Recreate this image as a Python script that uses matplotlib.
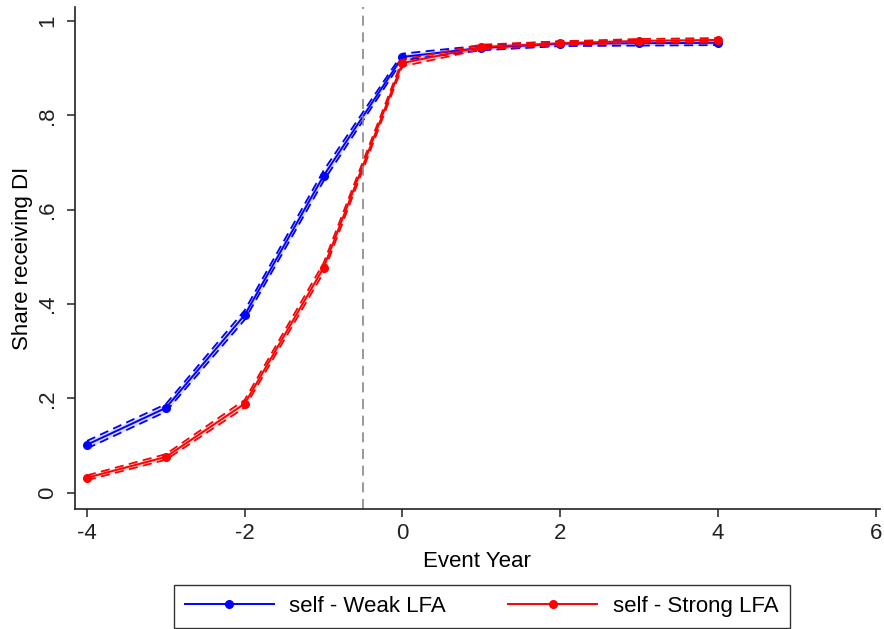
import matplotlib
matplotlib.use("Agg")
import matplotlib.pyplot as plt
import numpy as np

plt.rcParams['font.family'] = ['Liberation Sans', 'DejaVu Sans']

event_year = [-4, -3, -2, -1, 0, 1, 2, 3, 4]

weak_share = [0.102, 0.180, 0.377, 0.672, 0.924, 0.943, 0.952, 0.953, 0.954]
weak_lo    = [0.094, 0.172, 0.367, 0.661, 0.917, 0.938, 0.947, 0.948, 0.949]
weak_hi    = [0.110, 0.188, 0.387, 0.683, 0.931, 0.948, 0.957, 0.958, 0.959]

strong_share = [0.032, 0.076, 0.189, 0.477, 0.911, 0.945, 0.953, 0.958, 0.960]
strong_lo    = [0.027, 0.070, 0.181, 0.467, 0.904, 0.940, 0.949, 0.954, 0.956]
strong_hi    = [0.037, 0.082, 0.197, 0.487, 0.918, 0.950, 0.957, 0.962, 0.964]

x_ticks = [-4, -2, 0, 2, 4, 6]
y_ticks = [0, 0.2, 0.4, 0.6, 0.8, 1.0]
y_tick_labels = ["0", ".2", ".4", ".6", ".8", "1"]

FS = 16

fig = plt.figure(figsize=(8.84, 6.29), dpi=100)
ax = fig.add_axes([0.085, 0.191, 0.91, 0.798])

series = [
    (weak_share, weak_lo, weak_hi, "#0000ff", "self - Weak LFA"),
    (strong_share, strong_lo, strong_hi, "#ff0000", "self - Strong LFA"),
]
handles = []
for y, lo, hi, col, lab in series:
    ax.fill_between(event_year, lo, hi, color=col, alpha=0.15, lw=0)
    ax.plot(event_year, lo, color=col, lw=1.3, ls=(0, (5, 3)))
    ax.plot(event_year, hi, color=col, lw=1.3, ls=(0, (5, 3)))
    h, = ax.plot(event_year, y, color=col, lw=1.4, marker='o', ms=5.5,
                 mec=col, mfc=col, label=lab)
    handles.append(h)

ax.axvline(-0.5, color="#888888", lw=1.2, ls=(0, (6, 4)))

ax.set_xlim(-4.15, 6.05)
ax.set_ylim(-0.034, 1.03)
ax.set_xticks(x_ticks)
ax.set_xticklabels([str(t) for t in x_ticks])
ax.set_yticks(y_ticks)
ax.set_yticklabels(y_tick_labels, rotation=90, va='center')

for s in ['top', 'right']:
    ax.spines[s].set_visible(False)
for s in ['left', 'bottom']:
    ax.spines[s].set_linewidth(1.2)
    ax.spines[s].set_color('#222222')
ax.tick_params(axis='both', direction='out', length=6, width=1.1,
               labelsize=FS, colors='#222222')
ax.tick_params(axis='y', pad=6)
ax.tick_params(axis='x', pad=4)

ax.set_xlabel("Event Year", fontsize=FS, labelpad=5)
ax.set_ylabel("Share receiving DI", fontsize=FS, labelpad=3)

leg = fig.legend(handles=handles, loc='lower center', bbox_to_anchor=(0.545, 0.002),
                 ncol=2, fontsize=FS, frameon=True, fancybox=False,
                 edgecolor='black', handlelength=4.0, columnspacing=2.8,
                 borderpad=0.5, handletextpad=0.7, borderaxespad=0.0)
leg.get_frame().set_linewidth(1.0)

fig.savefig("out.png", dpi=100, facecolor='white')
